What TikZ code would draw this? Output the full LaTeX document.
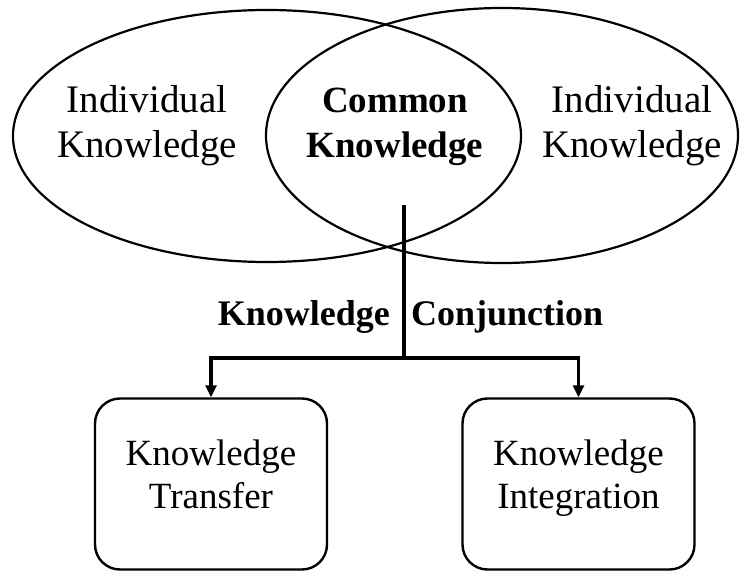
\documentclass[tikz,border=0pt]{standalone}
\usepackage{fontspec}
\setmainfont{Liberation Serif}
\usetikzlibrary{arrows.meta,shapes.geometric}
\begin{document}
\begin{tikzpicture}[x=1pt,y=-1pt,
  ell/.style={draw, ellipse, line width=2.2pt, inner sep=0pt},
  upper/.style={align=center, inner sep=0pt, font=\fontsize{39}{45}\selectfont},
  upperb/.style={align=center, inner sep=0pt, font=\fontsize{37}{45}\selectfont\bfseries},
  boxnode/.style={draw, rounded corners=25pt, line width=2.4pt, minimum width=232pt, minimum height=171pt, inner sep=0pt},
  boxtext/.style={align=center, inner sep=0pt, font=\fontsize{37}{43}\selectfont},
  conn/.style={line width=3.4pt},
  arr/.style={conn, -{Triangle[length=12pt,width=11pt]}},
  lab/.style={inner sep=0pt, font=\fontsize{36}{40}\selectfont\bfseries}]
\useasboundingbox (0,0) rectangle (741,572);
\node[ell, minimum width=508pt, minimum height=252pt] (L) at (267,136) {};
\node[ell, minimum width=472pt, minimum height=255pt] (R) at (502,135.5) {};
\node[upper] (tL) at (147,126.5) {Individual\strut\\Knowledge\strut};
\node[upperb] (tC) at (395,126.5) {Common\strut\\Knowledge\strut};
\node[upper] (tR) at (632,126.5) {Individual\strut\\Knowledge\strut};
\node[boxnode] (bT) at (211,484) {};
\node[boxnode] (bI) at (578.5,484) {};
\node[boxtext] (tT) at (211,478) {Knowledge\strut\\Transfer\strut};
\node[boxtext] (tI) at (578.5,478) {Knowledge\strut\\Integration\strut};
\coordinate (top) at (404,205);
\coordinate (split) at (404,358);
\draw[conn] (top) -- (split);
\draw[arr] (split) -| (bT.north);
\draw[arr] (split) -| (bI.north);
\node[lab, anchor=base east] (kc1) at (390,325) {Knowledge};
\node[lab, anchor=base west] (kc2) at (411,325) {Conjunction};
\end{tikzpicture}
\end{document}
